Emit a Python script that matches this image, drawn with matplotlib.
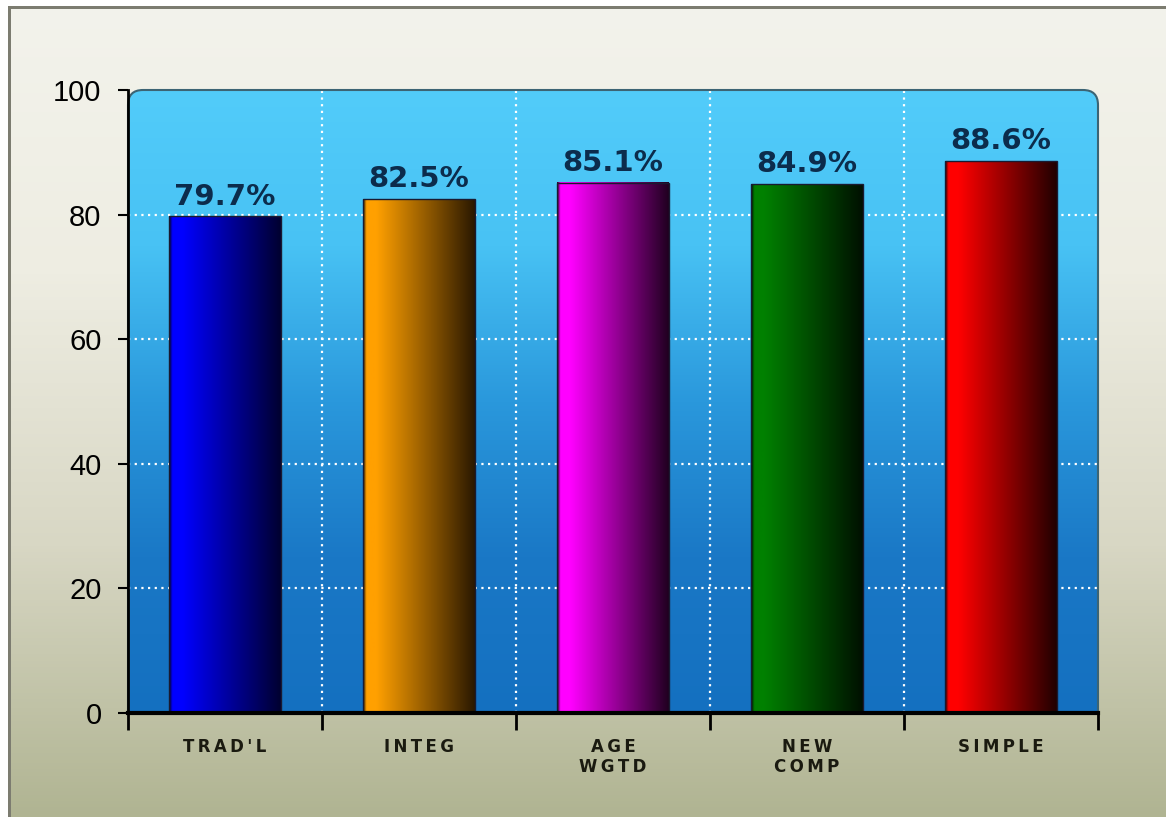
import numpy as np
import matplotlib.pyplot as plt
from matplotlib.colors import LinearSegmentedColormap
from matplotlib.patches import PathPatch, Rectangle
from matplotlib.path import Path

categories = ["TRAD'L", 'INTEG', 'AGE\nWGTD', 'NEW\nCOMP', 'SIMPLE']
values = [79.7, 82.5, 85.1, 84.9, 88.6]
bar_colors = ['#0000ff', '#ffa000', '#ff00ff', '#008000', '#ff0000']
dark_colors = ['#000030', '#2a1800', '#200020', '#001000', '#200000']
y_ticks = [0, 20, 40, 60, 80, 100]

W, H = 1166, 817
fig = plt.figure(figsize=(W / 100, H / 100), dpi=100)

# figure background gradient
bg = fig.add_axes([0, 0, 1, 1], zorder=-10)
bg_cmap = LinearSegmentedColormap.from_list('bg', ['#f3f3ec', '#eeede2', '#d8d7c4', '#b0b492'])
bg.imshow(np.linspace(0, 1, 256).reshape(-1, 1), cmap=bg_cmap, aspect='auto',
          extent=[0, 1, 0, 1])
bg.set_xlim(0, 1)
bg.set_ylim(0, 1)
bg.axis('off')
# frame on left and top
bg.add_patch(Rectangle((0, 0), 8 / W, 1, color='white', lw=0))
bg.add_patch(Rectangle((0, 1 - 6 / H), 1, 6 / H, color='white', lw=0))
bg.add_patch(Rectangle((8 / W, 0), 3 / W, 1 - 6 / H, color='#7c7c70', lw=0))
bg.add_patch(Rectangle((8 / W, 1 - 9 / H), 1 - 8 / W, 3 / H, color='#7c7c70', lw=0))

left, right, bottom, top = 128, 1098, 713, 90
ax = fig.add_axes([left / W, 1 - bottom / H, (right - left) / W, (bottom - top) / H])
ax.patch.set_visible(False)

# plot area with rounded top corners
rx = 15 / (right - left)
ry = 15 / (bottom - top)
verts = [(0, 0), (0, 1 - ry), (0, 1), (rx, 1), (1 - rx, 1), (1, 1), (1, 1 - ry), (1, 0), (0, 0)]
codes = [Path.MOVETO, Path.LINETO, Path.CURVE3, Path.CURVE3, Path.LINETO,
         Path.CURVE3, Path.CURVE3, Path.LINETO, Path.CLOSEPOLY]
area = PathPatch(Path(verts, codes), transform=ax.transAxes, facecolor='none',
                 edgecolor='#3c6474', lw=1.5, zorder=1, clip_on=False)
ax.add_patch(area)
area_cmap = LinearSegmentedColormap.from_list('area', ['#52ccfa', '#48c2f4', '#2a98dc', '#1a78c6', '#1470c0'])
n = len(categories)
im = ax.imshow(np.linspace(0, 1, 256).reshape(-1, 1), cmap=area_cmap, aspect='auto',
               extent=[-0.5, n - 0.5, 0, 100], zorder=0)
im.set_clip_path(area)

# dotted white grid
grid_kw = dict(color='white', lw=1.6, ls=(0, (1, 2)), zorder=0.5)
for y in y_ticks[1:-1]:
    ax.axhline(y, **grid_kw)
for xb in np.arange(0.5, n - 0.5, 1):
    ax.axvline(xb, **grid_kw)

# gradient bars
bw = 0.577
for i, (v, c, d) in enumerate(zip(values, bar_colors, dark_colors)):
    cmap = LinearSegmentedColormap.from_list(
        'b%d' % i, [(0, d), (0.03, c), (0.12, c), (1, d)])
    x0 = i - bw / 2
    ax.imshow(np.linspace(0, 1, 256).reshape(1, -1), cmap=cmap, aspect='auto',
              extent=[x0, x0 + bw, 0, v], zorder=2)
    ax.add_patch(Rectangle((x0, 0), bw, v, facecolor='none', edgecolor='#1a1a30',
                           lw=1, zorder=2.5))
    ax.text(i, v + 0.9, f'{v}%', ha='center', va='bottom', fontsize=21,
            fontweight='bold', color='#0c2c4c', family='DejaVu Sans', zorder=3)

ax.set_xlim(-0.5, n - 0.5)
ax.set_ylim(0, 100)

ax.set_yticks(y_ticks)
ax.set_yticklabels([str(t) for t in y_ticks], family='Liberation Sans', fontsize=21)
ax.tick_params(axis='y', direction='out', length=7, width=1.5, pad=12, colors='black')

ax.set_xticks(range(n))
ax.set_xticklabels(['\n'.join('\u2009'.join(p) for p in lab.split('\n')) for lab in categories],
                   fontsize=12, fontweight='bold', color='#1a1a10', linespacing=1.15)
ax.tick_params(axis='x', which='major', length=0, pad=18)
ax.set_xticks(np.arange(-0.5, n, 1), minor=True)
ax.tick_params(axis='x', which='minor', direction='out', length=12, width=2, colors='black')

for s in ['top', 'right']:
    ax.spines[s].set_visible(False)
ax.spines['left'].set_linewidth(2)
ax.spines['bottom'].set_linewidth(3)
ax.spines['left'].set_zorder(4)
ax.spines['bottom'].set_zorder(4)

plt.savefig('out.png', dpi=100)
